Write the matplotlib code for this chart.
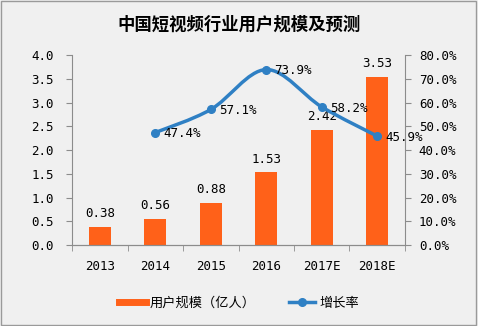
import numpy as np
import matplotlib.pyplot as plt
from matplotlib.path import Path
from matplotlib.patches import PathPatch, Rectangle
from matplotlib.lines import Line2D

plt.rcParams['font.family'] = ['Noto Sans CJK SC', 'DejaVu Sans']

# 用户规模（亿人）与增长率
years = ['2013', '2014', '2015', '2016', '2017E', '2018E']
users = [0.38, 0.56, 0.88, 1.53, 2.42, 3.53]
growth_years = [1, 2, 3, 4, 5]
growth = [47.4, 57.1, 73.9, 58.2, 45.9]

orange = '#FF6119'
blue = '#2F80C4'
grey = '#8c8c8c'
bg = '#f0f0f0'
numfont = 'DejaVu Sans Mono'
numsize = 9

fig = plt.figure(figsize=(4.78, 3.26), dpi=100, facecolor=bg)
ax = fig.add_axes([0.151, 0.248, 0.696, 0.583])
ax.set_facecolor(bg)
ax2 = ax.twinx()

x = np.arange(len(years))
ax.bar(x, users, width=0.4, color=orange, zorder=2)
for xi, v in zip(x, users):
    ax.annotate(f'{v:.2f}', (xi, v), xytext=(0, 5), textcoords='offset points',
                ha='center', va='bottom', fontsize=numsize, family=numfont)

ax.set_xlim(-0.5, len(years) - 0.5)
ax.set_ylim(0, 4.0)
ax.set_yticks(np.arange(0, 4.01, 0.5))
ax.set_yticklabels([f'{t:.1f}' for t in np.arange(0, 4.01, 0.5)], family=numfont)
ax.set_xticks(x)
ax.set_xticklabels(years, family=numfont)
ax.set_xticks(np.arange(-0.5, len(years), 1), minor=True)
ax.tick_params(axis='x', which='major', length=0, pad=11, labelsize=numsize)
ax.tick_params(axis='x', which='minor', length=4, direction='out', color=grey)
ax.tick_params(axis='y', length=4, color=grey, labelsize=numsize, pad=9)

# 平滑折线：Catmull-Rom 转三次贝塞尔
px = np.array(growth_years, dtype=float)
py = np.array(growth, dtype=float)
pts = np.column_stack([px, py])
ext = np.vstack([pts[0], pts, pts[-1]])
verts = [tuple(pts[0])]
codes = [Path.MOVETO]
for i in range(1, len(ext) - 2):
    p0, p1, p2, p3 = ext[i - 1], ext[i], ext[i + 1], ext[i + 2]
    c1 = p1 + (p2 - p0) / 6
    c2 = p2 - (p3 - p1) / 6
    verts += [tuple(c1), tuple(c2), tuple(p2)]
    codes += [Path.CURVE4] * 3
ax2.add_patch(PathPatch(Path(verts, codes), fill=False, edgecolor=blue, lw=2.5,
                        capstyle='round', zorder=3))
ax2.plot(px, py, 'o', color=blue, ms=5.5, zorder=4)
for xi, v in zip(px, py):
    ax2.annotate(f'{v:.1f}%', (xi, v), xytext=(6, -1), textcoords='offset points',
                 ha='left', va='center', fontsize=numsize, family=numfont)

ax2.set_ylim(0, 80)
ax2.set_yticks(np.arange(0, 81, 10))
ax2.set_yticklabels([f'{t:.1f}%' for t in np.arange(0, 81, 10)], family=numfont)
ax2.tick_params(axis='y', length=4, color=grey, labelsize=numsize, pad=6)

for a in (ax, ax2):
    a.spines['top'].set_visible(False)
    for s in ('left', 'right', 'bottom'):
        a.spines[s].set_color(grey)
ax.spines['right'].set_visible(False)
ax2.spines['left'].set_visible(False)

fig.text(0.5, 0.925, '中国短视频行业用户规模及预测', ha='center', va='center',
         fontsize=12.5, fontweight='bold')

handles = [Line2D([], [], color=orange, lw=5),
           Line2D([], [], color=blue, lw=2.5, marker='o', ms=5.5)]
fig.legend(handles, ['用户规模（亿人）', '增长率'], loc='center',
           bbox_to_anchor=(0.5, 0.07), ncol=2, frameon=False, fontsize=9.5,
           handlelength=2.0, handletextpad=0.3, columnspacing=2.5)

fig.add_artist(Rectangle((0.002, 0.003), 0.994, 0.993, transform=fig.transFigure,
                         fill=False, edgecolor='#9a9a9a', lw=1))

fig.savefig('out.png', dpi=100, facecolor=bg)
